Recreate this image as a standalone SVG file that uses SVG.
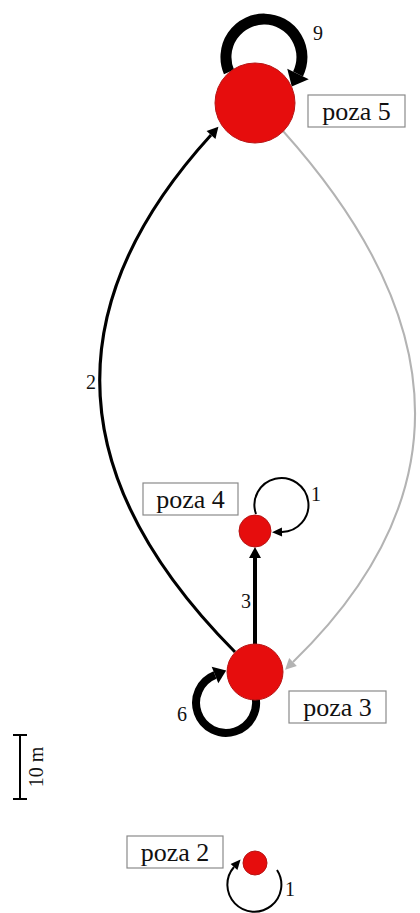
<svg xmlns="http://www.w3.org/2000/svg" width="420" height="913" viewBox="0 0 420 913">
<style>
.node{fill:#e60d0d;stroke:#b81414;stroke-width:1}
.box{fill:#ffffff;stroke:#8a8a8a;stroke-width:1.2}
.lbl{font-family:"Liberation Serif","Times New Roman",serif;font-size:26px;fill:#111;text-anchor:middle}
.num{font-family:"Liberation Serif","Times New Roman",serif;font-size:20px;fill:#111;text-anchor:middle}
.edge{fill:none;stroke:#000}
</style>
<defs>
<marker id="aThin" markerUnits="userSpaceOnUse" markerWidth="12" markerHeight="12" viewBox="0 -6 12 12" refX="0" refY="0" orient="auto" overflow="visible"><path d="M0,-4.5 L10,0 L0,4.5 Z" fill="#000"/></marker>
<marker id="aMed" markerUnits="userSpaceOnUse" markerWidth="14" markerHeight="14" viewBox="0 -7 14 14" refX="0" refY="0" orient="auto" overflow="visible"><path d="M0,-6 L11,0 L0,6 Z" fill="#000"/></marker>
<marker id="aGray" markerUnits="userSpaceOnUse" markerWidth="14" markerHeight="14" viewBox="0 -7 14 14" refX="0" refY="0" orient="auto" overflow="visible"><path d="M0,-5.5 L11,0 L0,5.5 Z" fill="#b3b3b3"/></marker>
<marker id="aBig" markerUnits="userSpaceOnUse" markerWidth="26" markerHeight="26" viewBox="0 -13 26 26" refX="0" refY="0" orient="auto" overflow="visible"><path d="M0,-12 L14,0 L0,12 Z" fill="#000"/></marker>
<marker id="aMid" markerUnits="userSpaceOnUse" markerWidth="20" markerHeight="20" viewBox="0 -10 20 20" refX="0" refY="0" orient="auto" overflow="visible"><path d="M0,-9 L12,0 L0,9 Z" fill="#000"/></marker>
</defs>
<g id="connectors">
<path id="e-3-5" class="edge" stroke-width="3" d="M235,652 Q-23,392 211,135" marker-end="url(#aMed)"/>
<path id="e-5-3" class="edge" style="stroke:#b3b3b3" stroke-width="2" d="M283,131 Q542,420 293,662" marker-end="url(#aGray)"/>
<path id="e-3-4" class="edge" stroke-width="4" d="M255,644 L255,558" marker-end="url(#aMed)"/>
<path id="l-5" class="edge" stroke-width="11" d="M229,72 A38,38 0 1 1 298,74" marker-end="url(#aBig)"/>
<path id="l-4" class="edge" stroke-width="2" d="M256,514 A27,27 0 1 1 282,532" marker-end="url(#aThin)"/>
<path id="l-3" class="edge" stroke-width="8" d="M255,695 A30,30 0 1 1 215,675" marker-end="url(#aMid)"/>
<path id="l-2" class="edge" stroke-width="2" d="M277,870 A27,27 0 1 1 234,867" marker-end="url(#aThin)"/>
<text class="num" x="318" y="40">9</text>
<text class="num" x="91" y="389">2</text>
<text class="num" x="246" y="608">3</text>
<text class="num" x="182" y="721">6</text>
<text class="num" x="316" y="501">1</text>
<text class="num" x="290" y="896">1</text>
</g>
<g id="poza5">
<circle class="node" cx="255" cy="103" r="40"/>
<rect class="box" x="308" y="95" width="97" height="32"/>
<text class="lbl" x="356.5" y="120">poza 5</text>
</g>
<g id="poza4">
<circle class="node" cx="255" cy="531" r="16"/>
<rect class="box" x="143" y="483" width="95" height="32"/>
<text class="lbl" x="190.5" y="508">poza 4</text>
</g>
<g id="poza3">
<circle class="node" cx="255" cy="672" r="28"/>
<rect class="box" x="289" y="691" width="97" height="32"/>
<text class="lbl" x="337.5" y="716">poza 3</text>
</g>
<g id="poza2">
<circle class="node" cx="255" cy="863" r="12"/>
<rect class="box" x="127" y="836" width="96" height="32"/>
<text class="lbl" x="175" y="861">poza 2</text>
</g>
<g id="scale">
<path d="M20,735 L20,799 M13,735 L27,735 M13,799 L27,799" stroke="#000" stroke-width="2" fill="none"/>
<text class="num" transform="translate(43,767) rotate(-90)" x="0" y="0">10 m</text>
</g>
</svg>
